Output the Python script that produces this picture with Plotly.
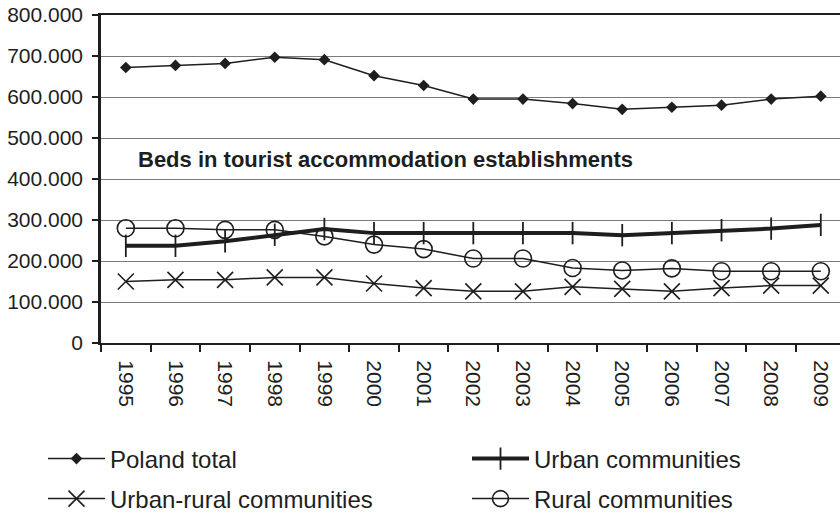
import plotly.graph_objects as go

years = ["1995", "1996", "1997", "1998", "1999", "2000", "2001", "2002",
         "2003", "2004", "2005", "2006", "2007", "2008", "2009"]
poland_total = [672000, 677000, 682000, 697000, 691000, 652000, 628000, 595000,
                595000, 584000, 570000, 575000, 580000, 595000, 602000]
urban = [237000, 237000, 248000, 264000, 278000, 268000, 268000, 268000,
         268000, 268000, 263000, 268000, 275000, 279000, 288000]
urban_rural = [150000, 154000, 154000, 160000, 160000, 145000, 134000, 126000,
               126000, 137000, 132000, 126000, 134000, 140000, 140000]
rural = [280000, 280000, 276000, 276000, 260000, 240000, 229000, 206000,
         206000, 183000, 177000, 182000, 175000, 175000, 175000]
y_tick_vals = [0, 100000, 200000, 300000, 400000, 500000, 600000, 700000, 800000]
y_tick_text = ["0", "100.000", "200.000", "300.000", "400.000", "500.000",
               "600.000", "700.000", "800.000"]
title_text = "Beds in tourist accommodation establishments"

INK = "#1e1e1e"
FONT = "Arial, Liberation Sans, sans-serif"

FW, FH = 840, 515

fig = go.Figure()
fig.add_trace(go.Scatter(
    x=years, y=poland_total, name="Poland total", mode="lines+markers",
    line=dict(color=INK, width=1.5),
    marker=dict(symbol="diamond", size=9, color=INK),
    legend="legend"))
fig.add_trace(go.Scatter(
    x=years, y=urban, name="Urban communities", mode="lines+markers",
    line=dict(color=INK, width=4),
    marker=dict(symbol="line-ns", size=16, line=dict(color=INK, width=1.8)),
    legend="legend2"))
fig.add_trace(go.Scatter(
    x=years, y=urban_rural, name="Urban-rural communities", mode="lines+markers",
    line=dict(color=INK, width=1.5),
    marker=dict(symbol="x-thin-open", size=16, line=dict(color=INK, width=1.6)),
    legend="legend3"))
fig.add_trace(go.Scatter(
    x=years, y=rural, name="Rural communities", mode="lines+markers",
    line=dict(color=INK, width=1.5),
    marker=dict(symbol="circle-open", size=17, color=INK, line=dict(width=1.6)),
    legend="legend4"))

fig.add_annotation(
    text="<b>" + title_text + "</b>", xref="paper", yref="y",
    x=(136 - 101) / 739, y=447000, xanchor="left", yanchor="middle",
    showarrow=False, font=dict(family=FONT, size=22, color=INK))

def leg(px, py):
    return dict(
        orientation="h", xref="container", yref="container",
        x=px / FW, y=1 - py / FH,
        xanchor="left", yanchor="middle",
        itemwidth=57, font=dict(family=FONT, size=24, color=INK),
        bgcolor="rgba(0,0,0,0)", borderwidth=0)

fig.update_layout(
    width=FW, height=FH,
    margin=dict(l=101, r=0, t=15, b=172, autoexpand=False),
    paper_bgcolor="white", plot_bgcolor="white",
    font=dict(family=FONT, color=INK),
    showlegend=True,
    legend=leg(43, 459),
    legend2=leg(467, 459),
    legend3=leg(43, 499),
    legend4=leg(467, 499),
    xaxis=dict(
        type="category", range=[-0.5, 14.387], tickson="boundaries",
        ticks="outside", ticklen=7, tickwidth=1.5, tickcolor=INK,
        tickangle=90, ticklabelstandoff=11,
        tickfont=dict(family=FONT, size=21, color=INK),
        showline=True, linecolor=INK, linewidth=2.2, mirror=True,
        showgrid=False, automargin=False),
    yaxis=dict(
        range=[0, 800000], tickvals=y_tick_vals, ticktext=y_tick_text,
        ticks="outside", ticklen=6, tickwidth=1.5, tickcolor=INK,
        ticklabelstandoff=5, ticklabeloverflow="allow",
        tickfont=dict(family=FONT, size=21, color=INK),
        showline=True, linecolor=INK, linewidth=2.5,
        showgrid=True, gridcolor="#7a7a7a", gridwidth=1.2, zeroline=False,
        automargin=False),
)

fig.write_html(
    "out.html",
    config={"displayModeBar": False},
    post_script="document.body.style.margin='0';document.body.style.overflow='hidden';")
